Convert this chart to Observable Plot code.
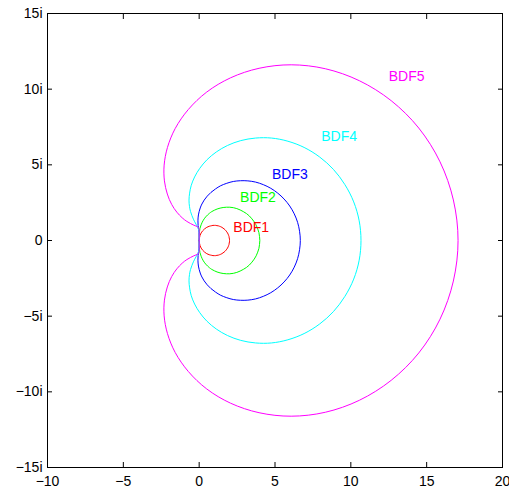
<!DOCTYPE html>
<html>
<head>
<meta charset="utf-8">
<script src="https://cdn.jsdelivr.net/npm/d3@7"></script>
<script src="https://cdn.jsdelivr.net/npm/@observablehq/plot@0.6"></script>
<style>
  html, body { margin: 0; padding: 0; background: #fff; }
  #chart { width: 509px; height: 491px; overflow: hidden; }
</style>
</head>
<body>
<div id="chart"></div>
<script>
// Boundary curves (real part, imaginary part), traced round the loop
const bdf1Re = [0,0.02,0.06,0.13,0.23,0.36,0.50,0.66,0.83,0.91,1.00,1.09,1.17,1.26,1.34,1.42,1.50,1.57,1.64,1.71,1.77,1.82,1.87,1.91,1.94,1.97,1.98,2.00,2.00,
  2.00,1.98,1.97,1.94,1.91,1.87,1.82,1.77,1.71,1.64,1.57,1.50,1.42,1.34,1.26,1.17,1.09,1.00,0.91,0.83,0.66,0.50,0.36,0.23,0.13,0.06,0.02,0];
const bdf1Im = [0,0.17,0.34,0.50,0.64,0.77,0.87,0.94,0.98,1.00,1.00,1.00,0.98,0.97,0.94,0.91,0.87,0.82,0.77,0.71,0.64,0.57,0.50,0.42,0.34,0.26,0.17,0.09,0,
  -0.09,-0.17,-0.26,-0.34,-0.42,-0.50,-0.57,-0.64,-0.71,-0.77,-0.82,-0.87,-0.91,-0.94,-0.97,-0.98,-1.00,-1.00,-1.00,-0.98,-0.94,-0.87,-0.77,-0.64,-0.50,-0.34,-0.17,0];

const bdf2Re = [0,0.00,0.00,0.02,0.05,0.13,0.25,0.43,0.68,0.83,1.00,1.18,1.38,1.58,1.80,2.02,2.25,2.48,2.70,2.91,3.12,3.31,3.48,3.63,3.76,3.86,3.94,3.98,4.00,
  3.98,3.94,3.86,3.76,3.63,3.48,3.31,3.12,2.91,2.70,2.48,2.25,2.02,1.80,1.58,1.38,1.18,1.00,0.83,0.68,0.43,0.25,0.13,0.05,0.02,0.00,0.00,0];
const bdf2Im = [0,0.18,0.36,0.57,0.79,1.04,1.30,1.56,1.80,1.91,2.00,2.08,2.14,2.18,2.20,2.20,2.17,2.11,2.02,1.91,1.78,1.62,1.43,1.23,1.01,0.77,0.52,0.26,0,
  -0.26,-0.52,-0.77,-1.01,-1.23,-1.43,-1.62,-1.78,-1.91,-2.02,-2.11,-2.17,-2.20,-2.20,-2.18,-2.14,-2.08,-2.00,-1.91,-1.80,-1.56,-1.30,-1.04,-0.79,-0.57,-0.36,-0.18,0];

const bdf3Re = [0,0.00,0.00,-0.01,-0.04,-0.07,-0.08,-0.05,0.07,0.18,0.33,0.53,0.78,1.08,1.42,1.82,2.25,2.72,3.21,3.72,4.23,4.72,5.18,5.60,5.97,6.27,6.49,6.62,6.67,
  6.62,6.49,6.27,5.97,5.60,5.18,4.72,4.23,3.72,3.21,2.72,2.25,1.82,1.42,1.08,0.78,0.53,0.33,0.18,0.07,-0.05,-0.08,-0.07,-0.04,-0.01,0.00,0.00,0];
const bdf3Im = [0,0.17,0.35,0.53,0.74,0.99,1.30,1.69,2.15,2.41,2.67,2.93,3.18,3.41,3.62,3.78,3.90,3.95,3.94,3.86,3.69,3.45,3.13,2.74,2.28,1.76,1.20,0.61,0,
  -0.61,-1.20,-1.76,-2.28,-2.74,-3.13,-3.45,-3.69,-3.86,-3.94,-3.95,-3.90,-3.78,-3.62,-3.41,-3.18,-2.93,-2.67,-2.41,-2.15,-1.69,-1.30,-0.99,-0.74,-0.53,-0.35,-0.17,0];

const bdf4Re = [0,0.00,0.00,-0.01,-0.03,-0.09,-0.21,-0.38,-0.57,-0.64,-0.67,-0.63,-0.52,-0.30,0.04,0.51,1.13,1.87,2.74,3.72,4.77,5.85,6.92,7.94,8.85,9.61,10.19,10.55,10.67,
  10.55,10.19,9.61,8.85,7.94,6.92,5.85,4.77,3.72,2.74,1.87,1.13,0.51,0.04,-0.30,-0.52,-0.63,-0.67,-0.64,-0.57,-0.38,-0.21,-0.09,-0.03,-0.01,0.00,0.00,0];
const bdf4Im = [0,0.17,0.35,0.52,0.69,0.86,1.08,1.41,1.92,2.26,2.67,3.13,3.65,4.20,4.77,5.33,5.85,6.28,6.60,6.77,6.77,6.56,6.15,5.52,4.70,3.69,2.55,1.30,0,
  -1.30,-2.55,-3.69,-4.70,-5.52,-6.15,-6.56,-6.77,-6.77,-6.60,-6.28,-5.85,-5.33,-4.77,-4.20,-3.65,-3.13,-2.67,-2.26,-1.92,-1.41,-1.08,-0.86,-0.69,-0.52,-0.35,-0.17,0];

const bdf5Re = [0,0.00,0.00,0.00,0.00,-0.02,-0.11,-0.35,-0.81,-1.12,-1.47,-1.81,-2.10,-2.29,-2.31,-2.09,-1.58,-0.72,0.50,2.07,3.95,6.07,8.32,10.56,12.66,14.48,15.88,16.76,17.07,
  16.76,15.88,14.48,12.66,10.56,8.32,6.07,3.95,2.07,0.50,-0.72,-1.58,-2.09,-2.31,-2.29,-2.10,-1.81,-1.47,-1.12,-0.81,-0.35,-0.11,-0.02,0.00,0.00,0.00,0.00,0];
const bdf5Im = [0,0.17,0.35,0.52,0.68,0.81,0.91,1.01,1.26,1.50,1.87,2.38,3.07,3.94,4.98,6.15,7.40,8.65,9.81,10.75,11.38,11.61,11.35,10.56,9.24,7.43,5.20,2.68,0,
  -2.68,-5.20,-7.43,-9.24,-10.56,-11.35,-11.61,-11.38,-10.75,-9.81,-8.65,-7.40,-6.15,-4.98,-3.94,-3.07,-2.38,-1.87,-1.50,-1.26,-1.01,-0.91,-0.81,-0.68,-0.52,-0.35,-0.17,0];

const curveNames = ["BDF1", "BDF2", "BDF3", "BDF4", "BDF5"];
const curveColors = ["#ff0000", "#00ff00", "#0000ff", "#00ffff", "#ff00ff"];
const labelX = [2.25, 2.7, 4.8, 8.05, 12.5];
const labelY = [0.85, 2.85, 4.35, 6.85, 10.85];
const xTicks = [-10, -5, 0, 5, 10, 15, 20];
const yTicks = [-15, -10, -5, 0, 5, 10, 15];

const reSets = [bdf1Re, bdf2Re, bdf3Re, bdf4Re, bdf5Re];
const imSets = [bdf1Im, bdf2Im, bdf3Im, bdf4Im, bdf5Im];

const lineMarks = curveNames.map((name, k) => {
  const rows = reSets[k].map((re, i) => ({x: re, y: imSets[k][i]}));
  return Plot.line(rows, {x: "x", y: "y", stroke: curveColors[k], strokeWidth: 1, curve: "catmull-rom"});
});

const labels = curveNames.map((name, k) => ({name, x: labelX[k], y: labelY[k], color: curveColors[k]}));

const yFmt = d => d === 0 ? "0" : (d < 0 ? "\u2212" + Math.abs(d) : d) + "i";
const xFmt = d => d < 0 ? "\u2212" + Math.abs(d) : String(d);

const chart = Plot.plot({
  width: 509,
  height: 491,
  marginLeft: 47,
  marginRight: 7,
  marginTop: 13,
  marginBottom: 24,
  style: {fontFamily: "'Liberation Sans', Arial, Helvetica, sans-serif", fontSize: "14px", background: "#fff", color: "#000"},
  x: {domain: [-10, 20], label: null},
  y: {domain: [-15, 15], label: null},
  marks: [
    Plot.axisX({anchor: "bottom", ticks: xTicks, tickSize: -5, tickPadding: 14, tickFormat: xFmt, fontSize: 14, label: null}),
    Plot.axisX({anchor: "top", ticks: xTicks, tickSize: -5, tickFormat: () => "", label: null}),
    Plot.axisY({anchor: "left", ticks: yTicks, tickSize: -5, tickPadding: 10, tickFormat: yFmt, fontSize: 14, label: null}),
    Plot.axisY({anchor: "right", ticks: yTicks, tickSize: -5, tickFormat: () => "", label: null}),
    ...lineMarks,
    Plot.text(labels, {x: "x", y: "y", text: "name", fill: "color", textAnchor: "start", fontSize: 14}),
    Plot.frame({stroke: "#000", strokeWidth: 1})
  ]
});
document.getElementById("chart").appendChild(chart);
</script>
</body>
</html>
